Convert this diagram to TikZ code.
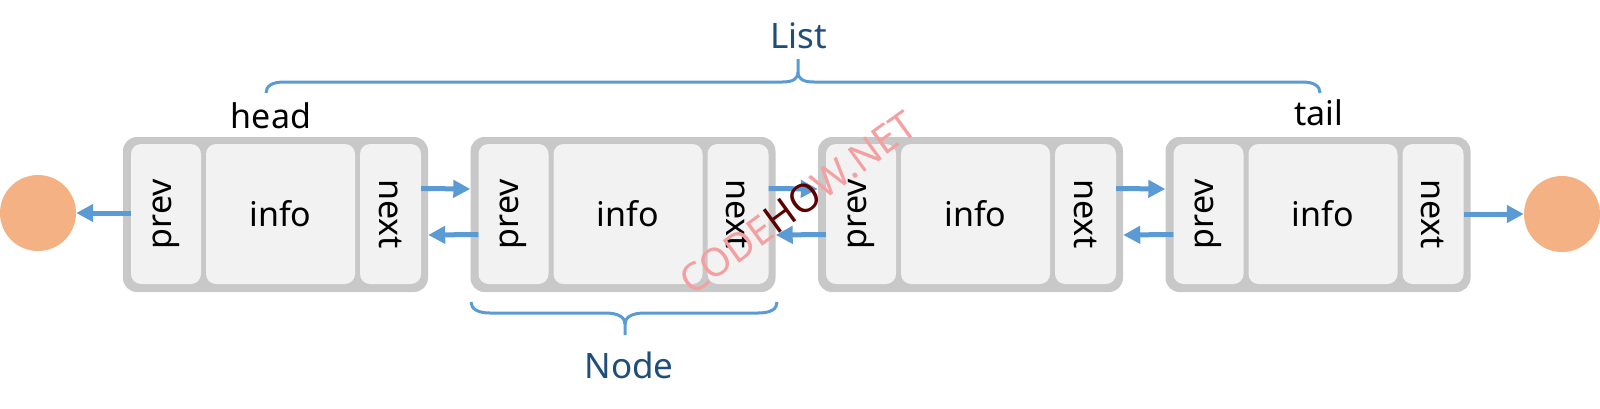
\documentclass[tikz,border=0pt]{standalone}
\usepackage{fontspec}
\setmainfont{Noto Sans}
\usetikzlibrary{arrows.meta}
\definecolor{boxgray}{HTML}{C8C8C8}
\definecolor{cellfill}{HTML}{F2F2F2}
\definecolor{arrowblue}{HTML}{5B9BD5}
\definecolor{endfill}{HTML}{F4B183}
\definecolor{labelblue}{HTML}{1F4E79}
\definecolor{wmpink}{HTML}{F08080}
\definecolor{wmdark}{HTML}{5C0000}
\tikzset{
  outerbox/.style={rectangle, rounded corners=14pt, fill=boxgray, minimum width=305pt, minimum height=155pt, inner sep=0pt},
  cellbox/.style={rectangle, rounded corners=10pt, fill=cellfill, minimum height=140pt, inner sep=0pt},
  celltext/.style={font=\fontsize{34}{38}\selectfont},
  arr/.style={draw=arrowblue, line width=5pt, -{Triangle[length=17pt,width=17pt]}},
  endpoint/.style={circle, fill=endfill, minimum size=76pt, inner sep=0pt},
  bracestyle/.style={draw=arrowblue, line width=3pt},
  bracelabel/.style={text=labelblue, font=\fontsize{35}{38}\selectfont, anchor=base},
  ptrlabel/.style={text=black, font=\fontsize{34}{38}\selectfont, anchor=base},
}
\begin{document}
\begin{tikzpicture}[x=1pt,y=-1pt]
\useasboundingbox (0,0) rectangle (1600,408);
\foreach \k in {1,2,3,4}{
  \pgfmathsetmacro{\L}{123+347.5*(\k-1)}
  \node[outerbox] (box\k) at (\L+152.5,214.5) {};
  \node[cellbox, minimum width=70pt] (prev\k) at (\L+43,214) {};
  \node[cellbox, minimum width=149pt] (info\k) at (\L+157.5,214) {};
  \node[cellbox, minimum width=61pt] (next\k) at (\L+267.5,214) {};
  \node[celltext, rotate=90] (prevt\k) at (prev\k.center) {prev};
  \node[celltext] (infot\k) at (info\k.center) {info};
  \node[celltext, rotate=-90] (nextt\k) at (next\k.center) {next};
}
\node[endpoint] (nullL) at (38,213) {};
\node[endpoint] (nullR) at (1562,214) {};
\draw[arr] (prev1.west |- nullL) -- (nullL.east);
\draw[arr] (next4.east |- nullR) -- (nullR.west);
\foreach \a/\b in {1/2,2/3,3/4}{
  \draw[arr] ([yshift=25.5pt]next\a.east) -- ([yshift=25.5pt]box\b.west);
  \draw[arr] ([yshift=-20.5pt]prev\b.west) -- ([yshift=-20.5pt]box\a.east);
}
% labels
\node[ptrlabel] (head) at (271,128) {head};
\node[ptrlabel] (tail) at (1319,125) {tail};
% List brace
\draw[bracestyle] (266,93) .. controls (266,86) and (272,82) .. (284,82) -- (782,82)
  .. controls (793,82) and (798,79) .. (798,72) -- (798,59);
\draw[bracestyle] (798,72) .. controls (798,79) and (803,82) .. (814,82) -- (1302,82)
  .. controls (1314,82) and (1320,86) .. (1320,93);
\node[bracelabel] (listlbl) at (799,48) {List};
% Node brace
\draw[bracestyle] (471,302) .. controls (471,309) and (478,313) .. (490,313) -- (605,313)
  .. controls (618,313) and (625,317) .. (625,324) -- (625,335);
\draw[bracestyle] (625,324) .. controls (625,317) and (632,313) .. (645,313) -- (758,313)
  .. controls (771,313) and (777,309) .. (777,302);
\node[bracelabel] (nodelbl) at (629,378) {Node};
% watermark
\node[rotate=36, font=\fontsize{39}{40}\selectfont, inner sep=0pt] (wm) at (798,203)
  {\textcolor{wmpink!75}{CODE}\textcolor{wmdark}{HO}\textcolor{wmpink!75}{W.NET}};
\end{tikzpicture}
\end{document}
